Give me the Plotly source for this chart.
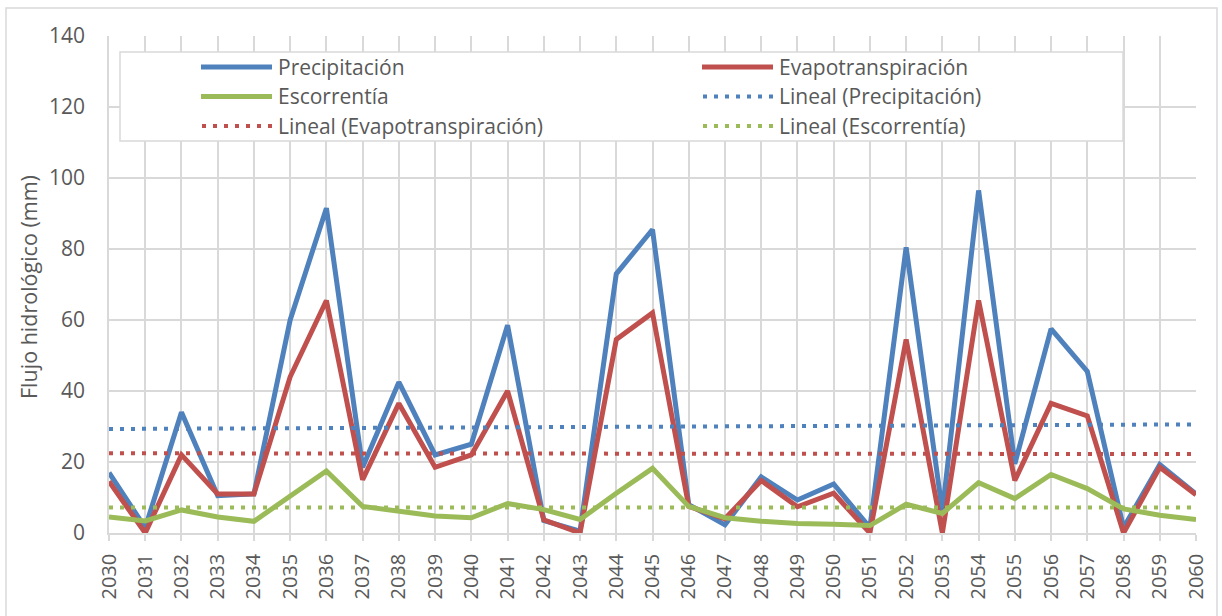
import plotly.graph_objects as go

years = list(range(2030, 2061))
precipitacion = [17, 1.5, 34, 10.5, 11, 60, 91.5, 18.5, 42.5, 22, 25, 58.5, 3.5, 0.5,
                 73, 85.5, 8, 2.3, 15.8, 9.3, 13.8, 1.5, 80.5, 6, 96.5, 19.5, 57.5, 45.5,
                 1.5, 19.3, 11]
evapotranspiracion = [14.5, 0, 22, 11, 11, 44, 65.5, 15, 36.5, 18.5, 22, 40, 3.7, 0,
                      54.5, 62, 7.5, 4, 14.8, 7.4, 11.2, 0, 54.5, 0, 65.5, 14.8, 36.5,
                      33, 0, 18.5, 10.8]
escorrentia = [4.5, 3.4, 6.5, 4.5, 3.3, 10.5, 17.5, 7.5, 6.2, 4.8, 4.3, 8.3, 6.6, 3.8,
               11.2, 18.2, 7.5, 4.3, 3.3, 2.7, 2.5, 2.1, 8.1, 5.5, 14.2, 9.7, 16.5, 12.5,
               6.8, 5.0, 3.8]

# linear trend lines: (value at 2030, value at 2060)
trend_precipitacion = [29.3, 30.6]
trend_evapotranspiracion = [22.45, 22.25]
trend_escorrentia = [7.2, 7.2]
trend_years = [2030, 2060]

series_names = ["Precipitación", "Evapotranspiración", "Escorrentía"]
trend_names = ["Lineal (Precipitación)", "Lineal (Evapotranspiración)", "Lineal (Escorrentía)"]
colors = ["#4f81bd", "#c0504d", "#9bbb59"]
y_title = "Flujo hidrológico (mm)"

# ---- layout geometry (pixels) ----
W, H = 1222, 616
ML, MR, MT, MB = 109, 26, 36, 83
PW, PH = W - ML - MR, H - MT - MB
def px_x(p):
    return (p - ML) / PW
def px_y(p):
    return (H - MB - p) / PH

TXT = "#595959"
GRID = "#d9d9d9"
FONT = "Open Sans"
DOT = "4px,7px"

fig = go.Figure()
all_series = [precipitacion, evapotranspiracion, escorrentia]
all_trends = [trend_precipitacion, trend_evapotranspiracion, trend_escorrentia]
for name, vals, col in zip(series_names, all_series, colors):
    fig.add_trace(go.Scatter(x=years, y=vals, mode="lines", name=name,
                             line=dict(color=col, width=5), showlegend=False))
for tname, tvals, col in zip(trend_names, all_trends, colors):
    fig.add_trace(go.Scatter(x=trend_years, y=tvals, mode="lines", name=tname,
                             line=dict(color=col, width=4, dash=DOT),
                             showlegend=False))

# ---- custom legend (Excel-like, two columns) ----
legend_entries = [
    (series_names[0], colors[0], "solid"), (series_names[1], colors[1], "solid"),
    (series_names[2], colors[2], "solid"), (trend_names[0], colors[0], "dot"),
    (trend_names[1], colors[1], "dot"), (trend_names[2], colors[2], "dot"),
]
shapes = []
annotations = []
# outer chart border
shapes.append(dict(type="rect", xref="paper", yref="paper",
                   x0=px_x(6), x1=px_x(1217), y0=px_y(640), y1=px_y(8),
                   line=dict(color=GRID, width=1.5), layer="below"))
# legend box
shapes.append(dict(type="rect", xref="paper", yref="paper",
                   x0=px_x(120), x1=px_x(1123), y0=px_y(141), y1=px_y(52),
                   line=dict(color=GRID, width=1.5), fillcolor="white", layer="above"))
col_x = [201, 702]
row_y = [67, 96.5, 126]
for i, (label, col, style) in enumerate(legend_entries):
    cx = col_x[i % 2]
    ry = row_y[i // 2]
    if style == "solid":
        shapes.append(dict(type="line", xref="paper", yref="paper",
                           x0=px_x(cx), x1=px_x(cx + 71), y0=px_y(ry), y1=px_y(ry),
                           line=dict(color=col, width=5), layer="above"))
    else:
        shapes.append(dict(type="line", xref="paper", yref="paper",
                           x0=px_x(cx + 1), x1=px_x(cx + 74), y0=px_y(ry), y1=px_y(ry),
                           line=dict(color=col, width=4, dash=DOT), layer="above"))
    annotations.append(dict(xref="paper", yref="paper", x=px_x(cx + 75), y=px_y(ry),
                            xanchor="left", yanchor="middle", showarrow=False,
                            text=label, font=dict(family=FONT, size=21, color=TXT)))
# y-axis title
annotations.append(dict(xref="paper", yref="paper", x=px_x(28), y=px_y(287),
                        xanchor="center", yanchor="middle", showarrow=False,
                        textangle=-90, text=y_title,
                        font=dict(family=FONT, size=21.5, color=TXT)))

fig.update_layout(
    width=W, height=H,
    margin=dict(l=ML, r=MR, t=MT, b=MB),
    paper_bgcolor="white", plot_bgcolor="white",
    font=dict(family=FONT, size=20, color=TXT),
    showlegend=False,
    shapes=shapes, annotations=annotations,
    xaxis=dict(range=[2030, 2060], tickmode="array", tickvals=years,
               ticktext=[str(y) for y in years], tickangle=-90,
               showgrid=True, gridcolor=GRID, gridwidth=1.5,
               ticks="outside", ticklen=6, tickcolor=GRID, tickwidth=1.5,
               ticklabelstandoff=5,
               showline=True, linecolor=GRID, linewidth=1.5,
               tickfont=dict(family=FONT, size=20, color=TXT), zeroline=False),
    yaxis=dict(range=[0, 140], dtick=20, showgrid=True, gridcolor=GRID, gridwidth=1.5,
               showline=True, linecolor=GRID, linewidth=1.5, zeroline=False,
               ticks="", ticklabelstandoff=18,
               tickfont=dict(family=FONT, size=21, color=TXT)),
)

fig.write_html("out.html", config={"displayModeBar": False},
               post_script="document.body.style.margin='0';document.body.style.overflow='hidden';")
